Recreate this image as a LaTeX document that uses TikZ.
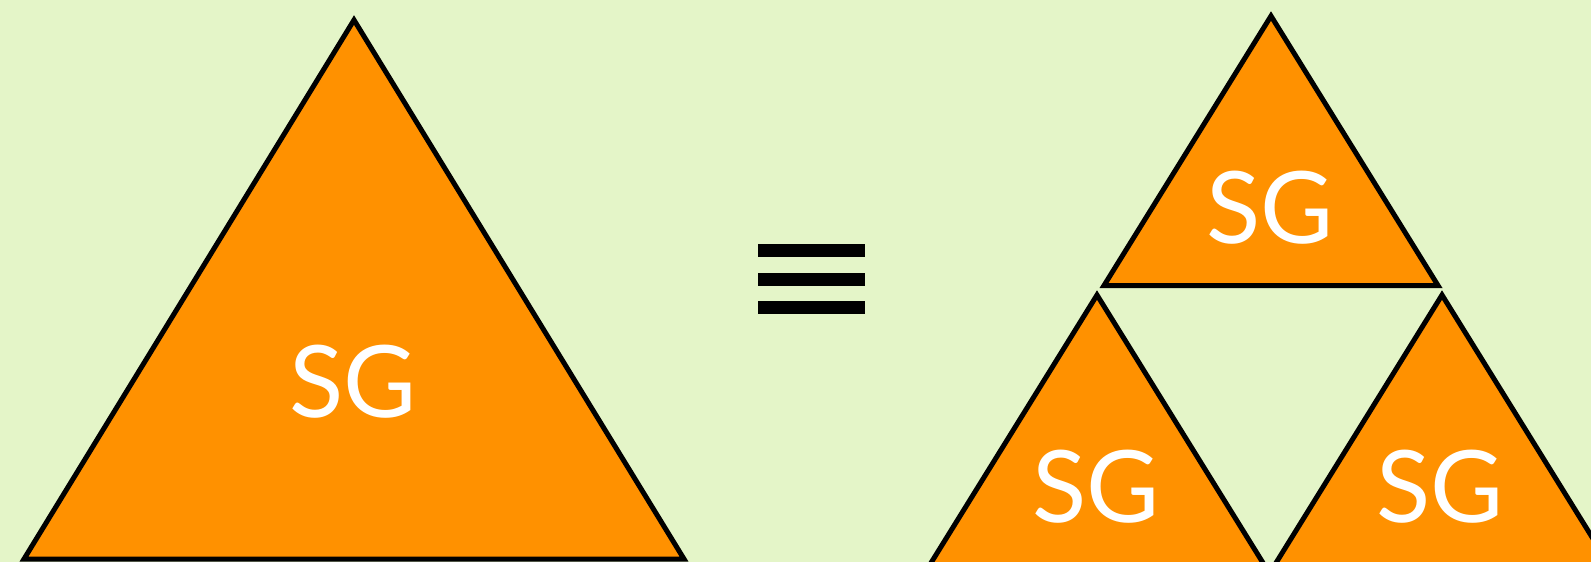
\documentclass[tikz,border=0pt]{standalone}
\usepackage{fontspec}
\setmainfont{Lato}
\definecolor{bgc}{RGB}{228,245,200}
\definecolor{orng}{RGB}{255,145,0}
\tikzset{
  tri/.style={fill=orng,draw=black,line width=2.5pt,miter limit=10},
  lbl/.style={text=white,font=\fontsize{50}{60}\selectfont,inner sep=0pt},
  bar/.style={fill=black}
}
\begin{document}
\begin{tikzpicture}[x=0.5pt,y=-0.5pt]
\fill[bgc] (0,0) rectangle (1591,562);
\useasboundingbox (0,0) rectangle (1591,562);
\clip (0,0) rectangle (1591,562);
% big triangle
\draw[tri] (24,559) -- (684,559) -- (354,20) -- cycle;
% small triangles
\draw[tri] (1104,285.5) -- (1438,285.5) -- (1271,16) -- cycle;
\draw[tri] (930,564.5) -- (1264,564.5) -- (1097,295) -- cycle;
\draw[tri] (1275,564.5) -- (1609,564.5) -- (1442,295) -- cycle;
% equivalence sign
\fill[bar] (758,244) rectangle (865,257);
\fill[bar] (758,273) rectangle (865,286);
\fill[bar] (758,301) rectangle (865,314);
% labels
\node[lbl] (big) at (353,382) {SG};
\node[lbl] (top) at (1270,208) {SG};
\node[lbl] (bl) at (1096,487) {SG};
\node[lbl] (br) at (1440,487) {SG};
\end{tikzpicture}
\end{document}
